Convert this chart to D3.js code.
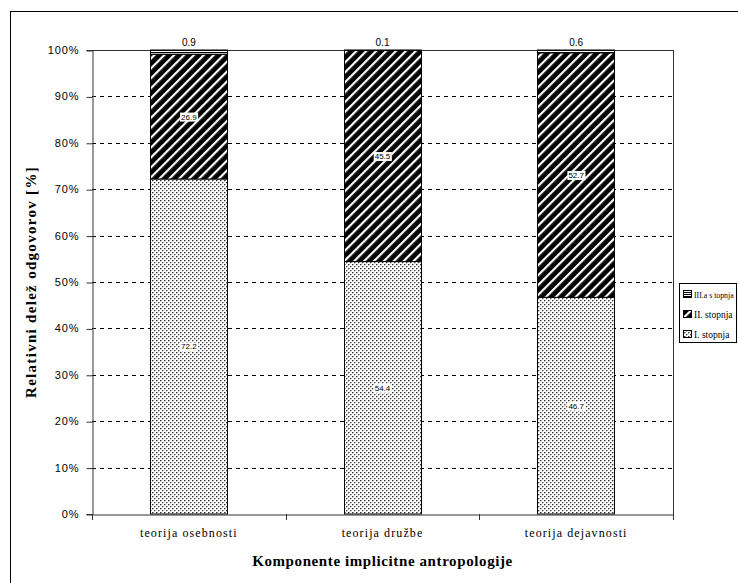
<!DOCTYPE html>
<html><head><meta charset="utf-8">
<script src="https://cdn.jsdelivr.net/npm/d3@7"></script>
<style>body{margin:0;background:#fff}svg{display:block}</style>
</head><body>
<script>
const categories = ["teorija osebnosti", "teorija družbe", "teorija dejavnosti"];
const seriesNames = ["I. stopnja", "II. stopnja", "III.a stopnja"];
const legendLabels = ["III.a s topnja", "II. stopnja", "I. stopnja"];
const stopnja1 = [72.2, 54.4, 46.7];
const stopnja2 = [26.9, 45.5, 52.7];
const stopnja3 = [0.9, 0.1, 0.6];
const yTicks = [0, 10, 20, 30, 40, 50, 60, 70, 80, 90, 100];

const W = 738, H = 583;
const svg = d3.select("body").append("svg").attr("width", W).attr("height", H);
const defs = svg.append("defs");

// patterns
const pDots = defs.append("pattern").attr("id", "pDots").attr("patternUnits", "userSpaceOnUse")
  .attr("width", 4).attr("height", 4);
pDots.append("rect").attr("width", 4).attr("height", 4).attr("fill", "#fff");
[[0,0,"#333"],[2,2,"#444"],[1,0,"#999"],[3,2,"#aaa"],[0,1,"#bbb"],[2,3,"#bbb"]].forEach(([px,py,c]) =>
  pDots.append("rect").attr("x", px).attr("y", py).attr("width", 1).attr("height", 1).attr("fill", c));

const pStripe = defs.append("pattern").attr("id", "pStripe").attr("patternUnits", "userSpaceOnUse")
  .attr("width", 7).attr("height", 7).attr("patternTransform", "rotate(45)");
pStripe.append("rect").attr("width", 7).attr("height", 7).attr("fill", "#000");
pStripe.append("rect").attr("x", 0).attr("width", 2.2).attr("height", 7).attr("fill", "#fff");

const pHoriz = defs.append("pattern").attr("id", "pHoriz").attr("patternUnits", "userSpaceOnUse")
  .attr("width", 4).attr("height", 2);
pHoriz.append("rect").attr("width", 4).attr("height", 2).attr("fill", "#fff");
pHoriz.append("rect").attr("width", 4).attr("height", 1).attr("fill", "#000");

const fills = ["url(#pDots)", "url(#pStripe)", "url(#pHoriz)"];

// outer frame
svg.append("rect").attr("x", 10.5).attr("y", 11.5).attr("width", 740).attr("height", 600)
  .attr("fill", "none").attr("stroke", "#000").attr("stroke-width", 1);

const margin = {left: 92, right: 673, top: 50, bottom: 514};
const x = d3.scaleBand().domain(categories).range([margin.left, margin.right]).paddingInner(0).paddingOuter(0);
const y = d3.scaleLinear().domain([0, 100]).range([margin.bottom, margin.top]);
const barW = x.bandwidth() * 0.4;

// gridlines
svg.append("g").selectAll("line").data(yTicks.filter(d => d > 0 && d < 100)).join("line")
  .attr("x1", margin.left).attr("x2", margin.right)
  .attr("y1", d => Math.round(y(d)) + 0.5).attr("y2", d => Math.round(y(d)) + 0.5)
  .attr("stroke", "#000").attr("stroke-dasharray", "4,4");
svg.append("line").attr("x1", margin.left).attr("x2", margin.right)
  .attr("y1", margin.top + 0.5).attr("y2", margin.top + 0.5).attr("stroke", "#333");
svg.append("line").attr("x1", margin.right + 0.5).attr("x2", margin.right + 0.5)
  .attr("y1", margin.top).attr("y2", margin.bottom).attr("stroke", "#333");

// stacked data
const rows = categories.map((c, i) => ({cat: c, s0: stopnja1[i], s1: stopnja2[i], s2: stopnja3[i]}));
const stack = d3.stack().keys(["s0", "s1", "s2"])(rows);

const gBars = svg.append("g");
stack.forEach((layer, li) => {
  gBars.append("g").selectAll("rect").data(layer).join("rect")
    .attr("x", d => Math.round(x(d.data.cat) + (x.bandwidth() - barW) / 2) + 0.5)
    .attr("y", d => y(d[1]))
    .attr("width", Math.round(barW))
    .attr("height", d => y(d[0]) - y(d[1]))
    .attr("fill", fills[li])
    .attr("stroke", "#000").attr("stroke-width", 1);
});

// labels
stack.forEach((layer, li) => {
  layer.forEach(d => {
    const cx = x(d.data.cat) + x.bandwidth() / 2;
    const val = d[1] - d[0];
    const txt = String(val.toFixed(1));
    if (li === 2) {
      svg.append("text").attr("x", cx).attr("y", margin.top - 4).attr("text-anchor", "middle")
        .attr("font-family", "Liberation Sans, Arial, sans-serif").attr("font-size", 10).text(txt);
    } else {
      const cy = (y(d[0]) + y(d[1])) / 2;
      const t = svg.append("text").attr("x", cx).attr("y", cy + 3).attr("text-anchor", "middle")
        .attr("font-family", "Liberation Sans, Arial, sans-serif").attr("font-size", 8).text(txt);
      const bb = t.node().getBBox();
      svg.insert("rect", () => t.node()).attr("x", bb.x - 1).attr("y", bb.y).attr("width", bb.width + 2)
        .attr("height", bb.height).attr("fill", "#fff");
    }
  });
});

// y axis
const yAxis = svg.append("g").attr("transform", `translate(${margin.left + 0.5},0)`)
  .call(d3.axisLeft(y).tickValues(yTicks).tickFormat(d => d + "%").tickSize(6).tickPadding(7));
yAxis.select(".domain").attr("stroke", "#333");
yAxis.selectAll(".tick line").attr("stroke", "#333").attr("transform", "translate(0,0.5)");
yAxis.selectAll("text").attr("font-family", "Liberation Sans, Arial, sans-serif").attr("font-size", 11)
  .attr("letter-spacing", 0.9).attr("fill", "#000");

// x axis
const xAxis = svg.append("g").attr("transform", `translate(0,${margin.bottom + 0.5})`)
  .call(d3.axisBottom(x).tickSize(0).tickPadding(14));
xAxis.select(".domain").attr("stroke", "#333");
xAxis.selectAll("text").attr("font-family", "Liberation Serif, Times New Roman, serif").attr("font-size", 12)
  .attr("letter-spacing", 1.1).attr("fill", "#000");
const bounds = [margin.left, ...categories.map(c => x(c) + x.bandwidth())];
svg.append("g").selectAll("line").data(bounds).join("line")
  .attr("x1", d => Math.round(d) + 0.5).attr("x2", d => Math.round(d) + 0.5)
  .attr("y1", margin.bottom).attr("y2", margin.bottom + 6).attr("stroke", "#333");

// axis titles
svg.append("text").attr("transform", `translate(36,${(margin.top + margin.bottom) / 2}) rotate(-90)`)
  .attr("text-anchor", "middle").attr("font-family", "Liberation Serif, Times New Roman, serif")
  .attr("font-weight", "bold").attr("font-size", 15).attr("letter-spacing", 1.3)
  .text("Relativni delež odgovorov [%]");
svg.append("text").attr("x", (margin.left + margin.right) / 2).attr("y", 566)
  .attr("text-anchor", "middle").attr("font-family", "Liberation Serif, Times New Roman, serif")
  .attr("font-weight", "bold").attr("font-size", 15).attr("letter-spacing", 0.6)
  .text("Komponente implicitne antropologije");

// legend
const lg = svg.append("g");
lg.append("rect").attr("x", 679.5).attr("y", 283.5).attr("width", 57).attr("height", 59)
  .attr("fill", "#fff").attr("stroke", "#000");
const legendFills = [fills[2], fills[1], fills[0]];
const legendSize = [7.8, 9.5, 9.5];
legendLabels.forEach((lab, i) => {
  const yy = 290 + i * 20;
  lg.append("rect").attr("x", 683.5).attr("y", yy + 0.5).attr("width", 8).attr("height", 7)
    .attr("fill", legendFills[i]).attr("stroke", "#000");
  lg.append("text").attr("x", 694).attr("y", yy + 8).attr("font-family", "Liberation Serif, Times New Roman, serif")
    .attr("font-size", legendSize[i]).text(lab);
});
</script>
</body></html>
